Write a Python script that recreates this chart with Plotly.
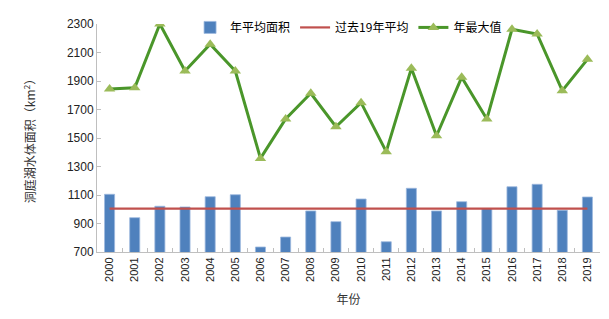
import plotly.graph_objects as go

years = [str(y) for y in range(2000, 2020)]
avg_area = [1105, 941, 1021, 1016, 1088, 1102, 735, 805, 988, 913,
            1072, 772, 1147, 988, 1053, 1005, 1158, 1175, 993, 1086]
max_area = [1844, 1853, 2300, 1970, 2158, 1970, 1357, 1633, 1814, 1579,
            1748, 1404, 1989, 1516, 1926, 1633, 2263, 2230, 1832, 2052]
avg19 = 1005
avg19_line = [avg19] * len(years)

cn_font = "Noto Sans CJK SC"
num_font = "Liberation Sans, Arial"

fig = go.Figure()
fig.add_trace(go.Bar(x=years, y=avg_area, name="年平均面积",
                     marker=dict(color="#4F81BD", line=dict(color="#9DB9DE", width=0.8))))
fig.add_trace(go.Scatter(x=years, y=avg19_line, name="过去19年平均", mode="lines",
                         line=dict(color="#C0504D", width=2.2)))
fig.add_trace(go.Scatter(x=years, y=max_area, name="年最大值", mode="lines+markers",
                         line=dict(color="#4A962A", width=3),
                         marker=dict(symbol="triangle-up", size=10, color="#9BBB59")))

fig.update_layout(
    width=609, height=319,
    margin=dict(l=97, r=9, t=24, b=67),
    plot_bgcolor="white", paper_bgcolor="white",
    bargap=0.6,
    font=dict(family=num_font, size=11, color="#222222"),
    legend=dict(orientation="h", x=0.185, y=0.985, xanchor="left", yanchor="middle",
                font=dict(family=cn_font, size=12, color="#000000"),
                bgcolor="rgba(0,0,0,0)", itemwidth=30, tracegroupgap=0),
    xaxis=dict(type="category", tickangle=-90, showline=True, linecolor="#BFBFBF",
               ticks="inside", ticklen=4, tickcolor="#BFBFBF", tickson="boundaries",
               tickfont=dict(family=num_font, size=11, color="#222222"),
               title=dict(text="年份", font=dict(family=cn_font, size=12, color="#333333"), standoff=14),
               range=[-0.5, 19.5]),
    yaxis=dict(range=[700, 2300], dtick=200, tick0=700, showgrid=False, showline=True,
               linecolor="#BFBFBF", ticks="inside", ticklen=4, tickcolor="#BFBFBF",
               zeroline=False,
               tickfont=dict(family=num_font, size=12, color="#222222"),
               title=dict(text="洞庭湖水体面积（km<sup>2</sup>）",
                          font=dict(family=cn_font, size=12, color="#333333"), standoff=28)),
)

fig.write_html("out.html")
